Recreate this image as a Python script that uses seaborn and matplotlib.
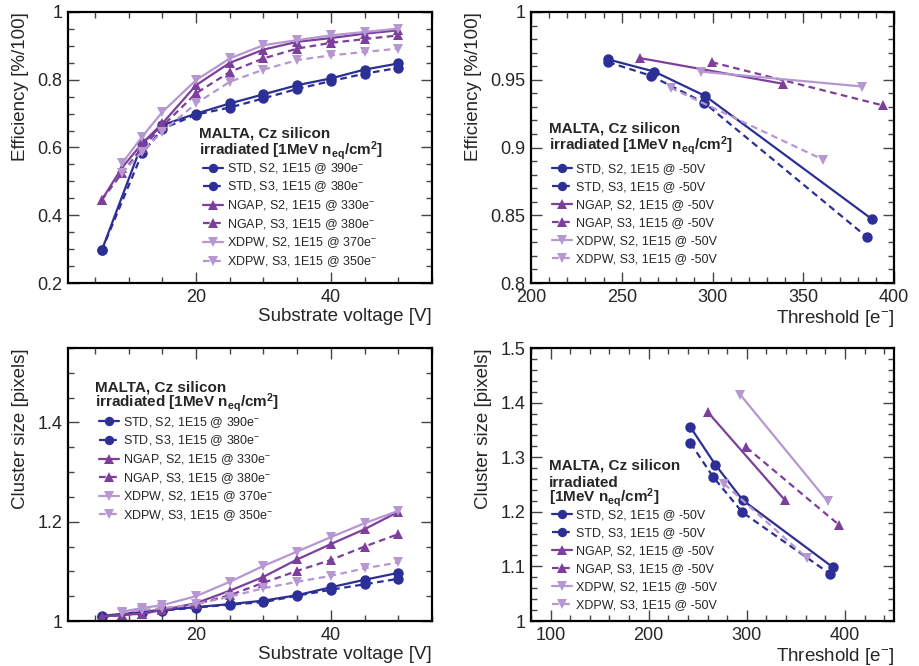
import matplotlib
matplotlib.use("Agg")
import seaborn as sns
import matplotlib.pyplot as plt
from matplotlib.ticker import MultipleLocator, FuncFormatter

# --- substrate voltage scans (threshold fixed) ---
volt_std = [6, 12, 15, 20, 25, 30, 35, 40, 45, 50]
volt_ngap = [6, 9, 12, 15, 20, 25, 30, 35, 40, 45, 50]
volt_xdpw = [9, 12, 15, 20, 25, 30, 35, 40, 45, 50]

eff_volt_std_s2 = [0.296, 0.612, 0.666, 0.700, 0.730, 0.757, 0.784, 0.804, 0.830, 0.848]
eff_volt_std_s3 = [0.296, 0.583, 0.655, 0.697, 0.718, 0.745, 0.773, 0.796, 0.818, 0.835]
eff_volt_ngap_s2 = [0.445, 0.540, 0.612, 0.671, 0.784, 0.850, 0.889, 0.912, 0.923, 0.936, 0.946]
eff_volt_ngap_s3 = [0.445, 0.524, 0.600, 0.663, 0.760, 0.823, 0.863, 0.892, 0.909, 0.920, 0.931]
eff_volt_xdpw_s2 = [0.553, 0.632, 0.705, 0.799, 0.863, 0.902, 0.917, 0.931, 0.941, 0.951]
eff_volt_xdpw_s3 = [0.524, 0.588, 0.647, 0.730, 0.794, 0.830, 0.858, 0.872, 0.882, 0.892]

cls_volt_std_s2 = [1.010, 1.019, 1.022, 1.028, 1.034, 1.041, 1.052, 1.068, 1.083, 1.097]
cls_volt_std_s3 = [1.008, 1.017, 1.021, 1.027, 1.033, 1.038, 1.051, 1.063, 1.074, 1.085]
cls_volt_ngap_s2 = [1.009, 1.012, 1.015, 1.022, 1.036, 1.061, 1.089, 1.124, 1.155, 1.185, 1.220]
cls_volt_ngap_s3 = [1.009, 1.012, 1.015, 1.022, 1.034, 1.052, 1.077, 1.101, 1.123, 1.150, 1.175]
cls_volt_xdpw_s2 = [1.019, 1.026, 1.032, 1.050, 1.079, 1.111, 1.140, 1.169, 1.197, 1.222]
cls_volt_xdpw_s3 = [1.017, 1.022, 1.026, 1.034, 1.049, 1.066, 1.079, 1.091, 1.106, 1.118]

# --- threshold scans at -50V ---
thr_std_s2 = [242.5, 268, 296, 388]
thr_std_s3 = [242.5, 266, 295.5, 385]
thr_ngap_s2 = [260, 339]
thr_ngap_s3 = [299.5, 394]
thr_xdpw_s2 = [293.5, 382.5]
thr_xdpw_s3 = [277, 361]

eff_thr_std_s2 = [0.965, 0.956, 0.938, 0.847]
eff_thr_std_s3 = [0.963, 0.953, 0.933, 0.834]
eff_thr_ngap_s2 = [0.966, 0.947]
eff_thr_ngap_s3 = [0.963, 0.931]
eff_thr_xdpw_s2 = [0.956, 0.945]
eff_thr_xdpw_s3 = [0.944, 0.891]

cls_thr_std_s2 = [1.355, 1.286, 1.221, 1.098]
cls_thr_std_s3 = [1.326, 1.263, 1.199, 1.086]
cls_thr_ngap_s2 = [1.383, 1.221]
cls_thr_ngap_s3 = [1.318, 1.176]
cls_thr_xdpw_s2 = [1.414, 1.219]
cls_thr_xdpw_s3 = [1.251, 1.116]

labels_volt = [
    "STD, S2, 1E15 @ 390e$^{-}$",
    "STD, S3, 1E15 @ 380e$^{-}$",
    "NGAP, S2, 1E15 @ 330e$^{-}$",
    "NGAP, S3, 1E15 @ 380e$^{-}$",
    "XDPW, S2, 1E15 @ 370e$^{-}$",
    "XDPW, S3, 1E15 @ 350e$^{-}$",
]
labels_thr = [
    "STD, S2, 1E15 @ -50V",
    "STD, S3, 1E15 @ -50V",
    "NGAP, S2, 1E15 @ -50V",
    "NGAP, S3, 1E15 @ -50V",
    "XDPW, S2, 1E15 @ -50V",
    "XDPW, S3, 1E15 @ -50V",
]

# style per series: STD / NGAP / XDPW, S2 solid, S3 dashed
colors = ["#2c2f96", "#2c2f96", "#7d3f9c", "#7d3f9c", "#b697d1", "#b697d1"]
markers = ["o", "o", "^", "^", "v", "v"]
dash = (0, (3, 2))
linestyles = ["-", dash, "-", dash, "-", dash]

sns.set_theme(style="ticks")
plt.rcParams["font.family"] = ["Liberation Sans", "DejaVu Sans"]
plt.rcParams["mathtext.default"] = "regular"

fig = plt.figure(figsize=(9.19, 6.66), dpi=100)

W, H = 919, 666


def px_axes(left, top, right, bottom):
    return fig.add_axes([left / W, 1 - bottom / H, (right - left) / W, (bottom - top) / H])


def draw(ax, xs, ys, labels):
    for x, y, lab, c, m, ls in zip(xs, ys, labels, colors, markers, linestyles):
        sns.lineplot(x=x, y=y, ax=ax, color=c, marker=m, linestyle=ls,
                     markersize=7.5, markeredgewidth=0, linewidth=1.6, label=lab)


def style(ax, xlim, ylim, xmaj, xmin, ymaj, ymin, xlabel, ylabel):
    ax.set_xlim(*xlim)
    ax.set_ylim(*ylim)
    ax.xaxis.set_major_locator(MultipleLocator(xmaj))
    ax.xaxis.set_minor_locator(MultipleLocator(xmin))
    ax.yaxis.set_major_locator(MultipleLocator(ymaj))
    ax.yaxis.set_minor_locator(MultipleLocator(ymin))
    fmt = FuncFormatter(lambda v, _: f"{v:g}")
    ax.xaxis.set_major_formatter(fmt)
    ax.yaxis.set_major_formatter(fmt)
    ax.tick_params(which="both", direction="in", top=True, right=True,
                   labelsize=13, color="#444444", width=1)
    ax.tick_params(which="major", length=8, pad=4)
    ax.tick_params(which="minor", length=4)
    for s in ax.spines.values():
        s.set_linewidth(1.6)
        s.set_color("black")
    ax.set_xlabel(xlabel, loc="right", fontsize=13.5, labelpad=2)
    ax.set_ylabel(ylabel, loc="top", fontsize=13.5, labelpad=6)


def header(ax, x, ys, lines):
    for y, line in zip(ys, lines):
        ax.text(x, y, line, transform=ax.transAxes, fontsize=11,
                fontweight="bold", va="center", ha="left")


def legend(ax, x, y, spacing):
    ax.legend(loc="upper left", bbox_to_anchor=(x, y), frameon=False,
              fontsize=9, handlelength=1.6, handletextpad=0.35,
              labelspacing=spacing, borderpad=0, borderaxespad=0, markerscale=0.9)


head2 = ["MALTA, Cz silicon", "irradiated [1MeV n$_{eq}$/cm$^{2}$]"]
head3 = ["MALTA, Cz silicon", "irradiated", "[1MeV n$_{eq}$/cm$^{2}$]"]

# top-left: efficiency vs substrate voltage
ax1 = px_axes(68, 12, 432, 283)
draw(ax1,
     [volt_std, volt_std, volt_ngap, volt_ngap, volt_xdpw, volt_xdpw],
     [eff_volt_std_s2, eff_volt_std_s3, eff_volt_ngap_s2, eff_volt_ngap_s3,
      eff_volt_xdpw_s2, eff_volt_xdpw_s3], labels_volt)
style(ax1, (1, 55), (0.2, 1.0), 20, 5, 0.2, 0.05,
      "Substrate voltage [V]", "Efficiency [%/100]")
header(ax1, 0.36, [0.55, 0.49], head2)
legend(ax1, 0.37, 0.45, 0.3)

# top-right: efficiency vs threshold
ax2 = px_axes(531, 12, 894, 283)
draw(ax2,
     [thr_std_s2, thr_std_s3, thr_ngap_s2, thr_ngap_s3, thr_xdpw_s2, thr_xdpw_s3],
     [eff_thr_std_s2, eff_thr_std_s3, eff_thr_ngap_s2, eff_thr_ngap_s3,
      eff_thr_xdpw_s2, eff_thr_xdpw_s3], labels_thr)
style(ax2, (200, 400), (0.8, 1.0), 50, 10, 0.05, 0.01,
      "Threshold [e$^{-}$]", "Efficiency [%/100]")
header(ax2, 0.05, [0.569, 0.508], head2)
legend(ax2, 0.058, 0.443, 0.48)

# bottom-left: cluster size vs substrate voltage
ax3 = px_axes(68, 348, 432, 621)
draw(ax3,
     [volt_std, volt_std, volt_ngap, volt_ngap, volt_xdpw, volt_xdpw],
     [cls_volt_std_s2, cls_volt_std_s3, cls_volt_ngap_s2, cls_volt_ngap_s3,
      cls_volt_xdpw_s2, cls_volt_xdpw_s3], labels_volt)
style(ax3, (1, 55), (1.0, 1.55), 20, 5, 0.2, 0.05,
      "Substrate voltage [V]", "Cluster size [pixels]")
header(ax3, 0.074, [0.857, 0.8], head2)
legend(ax3, 0.085, 0.755, 0.3)

# bottom-right: cluster size vs threshold
ax4 = px_axes(531, 348, 894, 621)
draw(ax4,
     [thr_std_s2, thr_std_s3, thr_ngap_s2, thr_ngap_s3, thr_xdpw_s2, thr_xdpw_s3],
     [cls_thr_std_s2, cls_thr_std_s3, cls_thr_ngap_s2, cls_thr_ngap_s3,
      cls_thr_xdpw_s2, cls_thr_xdpw_s3], labels_thr)
style(ax4, (80, 450), (1.0, 1.5), 100, 20, 0.1, 0.02,
      "Threshold [e$^{-}$]", "Cluster size [pixels]")
header(ax4, 0.05, [0.568, 0.504, 0.452], head3)
legend(ax4, 0.058, 0.41, 0.48)

fig.savefig("out.png", dpi=100)
